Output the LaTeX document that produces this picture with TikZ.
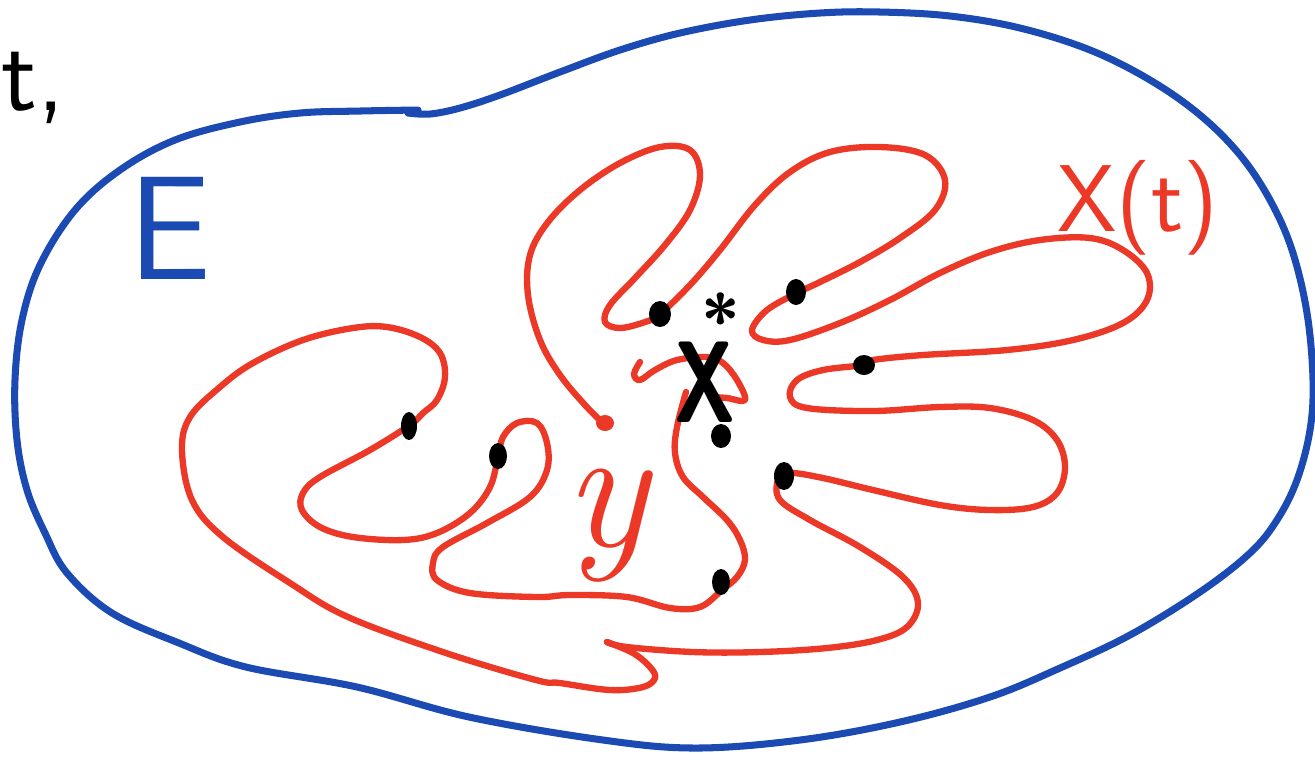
\documentclass[tikz,border=0pt]{standalone}
\usepackage{fontspec}
\usepackage{tikz}
\usetikzlibrary{positioning}

\definecolor{setblue}{RGB}{26,74,178}
\definecolor{pathred}{RGB}{236,56,38}

\begin{document}
\begin{tikzpicture}[
        x=0.01cm, y=-0.01cm,
        boundary/.style={draw=setblue, line width=2pt, line cap=round, line join=round},
        traj/.style={draw=pathred, line width=1.8pt, line cap=round, line join=round},
        dot/.style={fill=black},
        lbl/.style={inner sep=0pt, font=\sffamily}
    ]
    \useasboundingbox (0,0) rectangle (1315,759);

    % the set E
    \draw[boundary] plot[smooth, tension=0.6] coordinates {
        (408,113) (430,114) (460,108) (500,95) (560,72) (620,50) (680,33) (750,20)
        (820,13) (880,12) (950,16) (1020,28) (1090,50) (1150,80) (1200,115) (1240,155)
        (1270,200) (1292,250) (1307,313) (1313,380) (1310,430) (1297,480) (1277,520)
        (1250,553) (1200,592) (1130,635) (1060,668) (990,697) (900,722) (800,740)
        (696,748) (603,740) (469,717) (357,687) (246,667) (179,643) (112,613)
        (67,573) (45,533) (27,490) (17,440) (15,380) (22,320) (40,265) (75,210)
        (120,170) (175,140) (240,122) (300,113) (360,111) (418,110)};

    % trajectory X(t)
    \draw[traj] plot[smooth, tension=0.6] coordinates {
        (640,362) (634,374) (640,380) (655,370) (677,360) (707,357) (723,363)
        (737,380) (745,400) (727,398) (713,397)};
    \draw[traj] plot[smooth, tension=0.6] coordinates {
        (604,424) (585,405) (560,375) (540,340) (528,295) (530,255) (548,222)
        (580,190) (620,163) (660,147) (690,150) (700,175) (690,210) (665,245)
        (635,278) (610,305) (605,322) (620,328) (645,322) (660,314) (690,285)
        (720,250) (755,205) (790,172) (830,152) (880,147) (925,155) (945,180)
        (935,210) (900,238) (860,262) (820,282) (797,293) (767,310) (752,330)
        (763,340) (790,340) (840,323) (890,300) (940,273) (990,252) (1040,240)
        (1090,238) (1123,250) (1147,273) (1147,300) (1123,323) (1073,340)
        (1007,350) (923,355) (873,360) (863,365) (823,370) (797,380) (790,397)
        (807,408) (873,411) (940,407) (990,408) (1033,420) (1057,440) (1065,467)
        (1057,493) (1033,507) (990,510) (940,505) (873,490) (823,478) (790,473)
        (778,480) (780,500) (810,520) (860,547) (903,577) (918,603) (907,627)
        (877,640) (827,648) (760,652) (693,652) (627,647) (607,642)};
    \draw[traj] plot[smooth, tension=0.6] coordinates {
        (607,642) (633,653) (650,667) (655,678) (643,687) (610,690) (560,683)
        (536,680) (446,653) (348,617) (290,583) (223,537) (192,500) (182,450)
        (190,417) (220,387) (253,363) (303,340) (353,328) (387,327) (420,337)
        (440,353) (445,377) (437,400) (423,413) (410,425) (370,450) (320,477)
        (303,493) (302,510) (320,527) (353,537) (403,540) (437,533) (470,513)
        (490,487) (498,457) (503,437) (517,423) (537,423) (547,443) (547,470)
        (530,497) (487,523) (443,547) (433,563) (437,580) (470,593) (537,597)
        (570,595) (627,597) (670,608) (700,607) (722,590) (737,577) (745,560)
        (740,540) (727,520) (703,497) (683,477) (675,453) (677,427) (686,392)};
    \fill[pathred] (605,423) ellipse [x radius=9, y radius=8];

    % points on the trajectory
    \fill[dot] (660,314) ellipse [x radius=11, y radius=13];
    \fill[dot] (796,292) ellipse [x radius=10, y radius=13];
    \fill[dot] (864,365) ellipse [x radius=11, y radius=10];
    \fill[dot] (409,426) ellipse [x radius=8, y radius=14];
    \fill[dot] (498,456) ellipse [x radius=9, y radius=13];
    \fill[dot] (721,436) ellipse [x radius=10, y radius=12];
    \fill[dot] (784,476) ellipse [x radius=10, y radius=14];
    \fill[dot] (721,582) ellipse [x radius=9, y radius=13];

    % labels
    \node[lbl, text=setblue, font=\sffamily\fontsize{42}{46}\selectfont] (setE) at (170,228) {E};
    \node[lbl, text=pathred, font=\sffamily\fontsize{27}{32}\selectfont] (trajX) at (1138,208) {X(t)};
    \node[lbl, text=pathred, font=\rmfamily\itshape\fontsize{50}{56}\selectfont, anchor=base] (pointy) at (606,546) {y};
    \node[lbl, text=black, font=\sffamily\bfseries\fontsize{33}{36}\selectfont, anchor=base west] (fixX) at (674,422) {\scalebox{0.72}[1]{X}\kern-0.3em\raisebox{0.66em}{\fontsize{20}{20}\selectfont *}};
    \node[lbl, text=black, font=\sffamily\fontsize{30}{34}\selectfont, anchor=base west] (timet) at (1,110) {t,};
\end{tikzpicture}
\end{document}
